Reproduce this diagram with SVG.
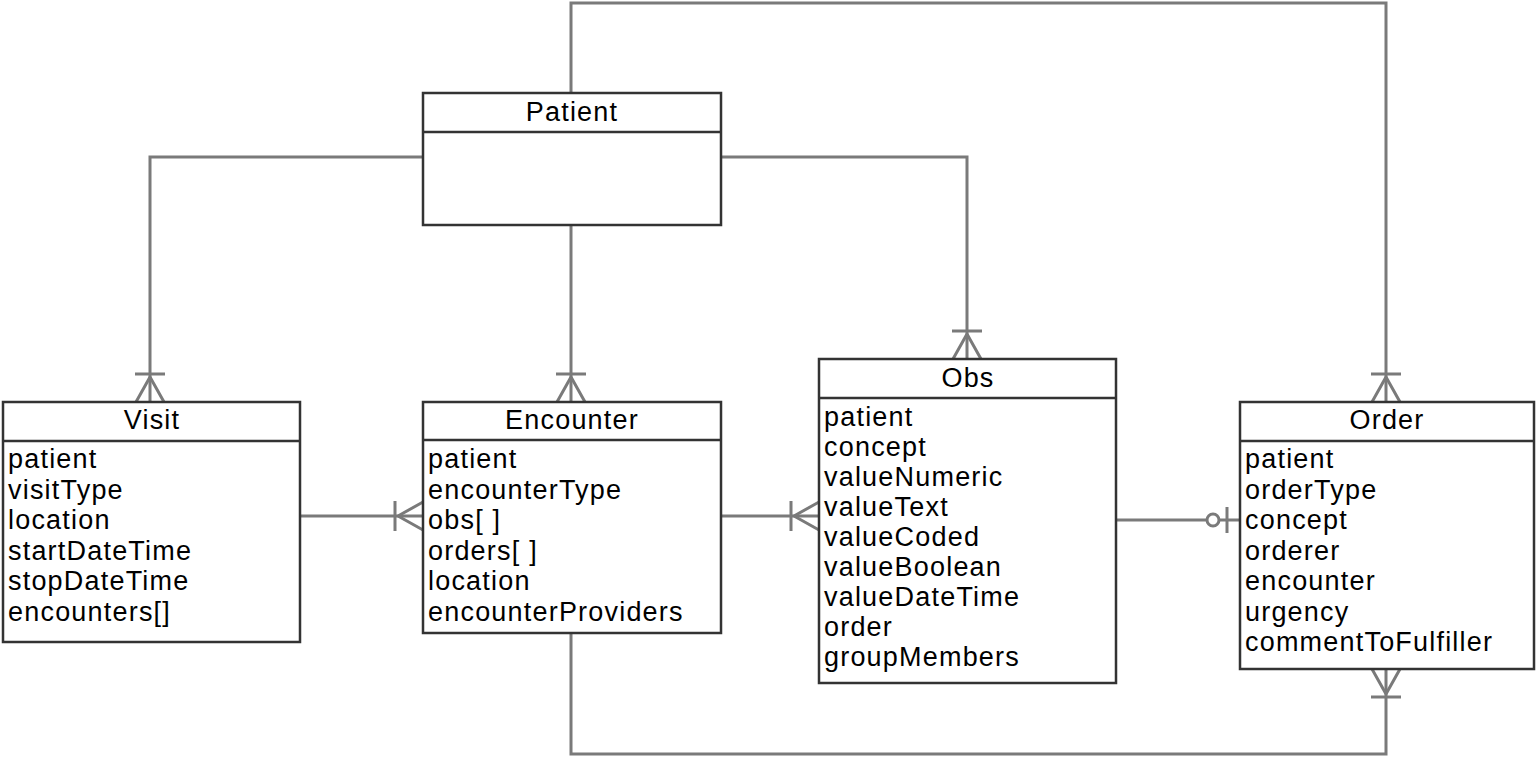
<svg xmlns="http://www.w3.org/2000/svg" width="1537" height="758" viewBox="0 0 1537 758">
<style>
.box{fill:#fff;stroke:#333;stroke-width:2.5}
.sep{stroke:#333;stroke-width:2.5}
.conn{fill:none;stroke:#7a7a7a;stroke-width:3}
.t{font-family:"Liberation Sans",Arial,sans-serif;font-size:27px;letter-spacing:1.2px;fill:#000}
.h{text-anchor:middle}
</style>
<defs>
<marker id="many" markerUnits="userSpaceOnUse" markerWidth="80" markerHeight="80" viewBox="-40 -40 80 80" refX="0" refY="0" orient="auto" overflow="visible">
<path d="M-25,0 L0,-14 M-25,0 L0,14 M-28,-15 L-28,15" fill="none" stroke="#7a7a7a" stroke-width="3"/>
</marker>
<marker id="zeroone" markerUnits="userSpaceOnUse" markerWidth="80" markerHeight="80" viewBox="-40 -40 80 80" refX="0" refY="0" orient="auto" overflow="visible">
<circle cx="-27" cy="0" r="6" fill="#fff" stroke="#7a7a7a" stroke-width="3"/>
<path d="M-13,-13 L-13,13" fill="none" stroke="#7a7a7a" stroke-width="3"/>
</marker>
</defs>
<rect width="1537" height="758" fill="#fff"/>
<g id="connectors">
<path class="conn" d="M571,93 L571,3 L1386,3 L1386,402" marker-end="url(#many)"/>
<path class="conn" d="M423,157 L150,157 L150,402" marker-end="url(#many)"/>
<path class="conn" d="M571,225 L571,402" marker-end="url(#many)"/>
<path class="conn" d="M721,157 L967,157 L967,359" marker-end="url(#many)"/>
<path class="conn" d="M300,516 L423,516" marker-end="url(#many)"/>
<path class="conn" d="M721,516 L819,516" marker-end="url(#many)"/>
<path class="conn" d="M1116,520 L1240,520" marker-end="url(#zeroone)"/>
<path class="conn" d="M571,633 L571,754 L1386,754 L1386,669" marker-end="url(#many)"/>
</g>
<g id="patient">
<rect class="box" x="423" y="93" width="298" height="132"/>
<line class="sep" x1="423" y1="132" x2="721" y2="132"/>
<text class="t h" x="572" y="121">Patient</text>
</g>
<g id="visit">
<rect class="box" x="3" y="402" width="297" height="240"/>
<line class="sep" x1="3" y1="441" x2="300" y2="441"/>
<text class="t h" x="152" y="429">Visit</text>
<text class="t" x="8" y="468">patient</text>
<text class="t" x="8" y="498.5">visitType</text>
<text class="t" x="8" y="529">location</text>
<text class="t" x="8" y="559.5">startDateTime</text>
<text class="t" x="8" y="590">stopDateTime</text>
<text class="t" x="8" y="620.5">encounters[]</text>
</g>
<g id="encounter">
<rect class="box" x="423" y="402" width="298" height="231"/>
<line class="sep" x1="423" y1="440" x2="721" y2="440"/>
<text class="t h" x="572" y="429">Encounter</text>
<text class="t" x="428" y="468">patient</text>
<text class="t" x="428" y="498.5">encounterType</text>
<text class="t" x="428" y="529">obs[ ]</text>
<text class="t" x="428" y="559.5">orders[ ]</text>
<text class="t" x="428" y="590">location</text>
<text class="t" x="428" y="620.5">encounterProviders</text>
</g>
<g id="obs">
<rect class="box" x="819" y="359" width="297" height="324"/>
<line class="sep" x1="819" y1="398" x2="1116" y2="398"/>
<text class="t h" x="968" y="387">Obs</text>
<text class="t" x="824" y="426">patient</text>
<text class="t" x="824" y="456">concept</text>
<text class="t" x="824" y="486">valueNumeric</text>
<text class="t" x="824" y="516">valueText</text>
<text class="t" x="824" y="546">valueCoded</text>
<text class="t" x="824" y="576">valueBoolean</text>
<text class="t" x="824" y="606">valueDateTime</text>
<text class="t" x="824" y="636">order</text>
<text class="t" x="824" y="666">groupMembers</text>
</g>
<g id="order">
<rect class="box" x="1240" y="402" width="294" height="267"/>
<line class="sep" x1="1240" y1="441" x2="1534" y2="441"/>
<text class="t h" x="1387" y="429">Order</text>
<text class="t" x="1245" y="468">patient</text>
<text class="t" x="1245" y="498.5">orderType</text>
<text class="t" x="1245" y="529">concept</text>
<text class="t" x="1245" y="559.5">orderer</text>
<text class="t" x="1245" y="590">encounter</text>
<text class="t" x="1245" y="620.5">urgency</text>
<text class="t" x="1245" y="651">commentToFulfiller</text>
</g>
</svg>
